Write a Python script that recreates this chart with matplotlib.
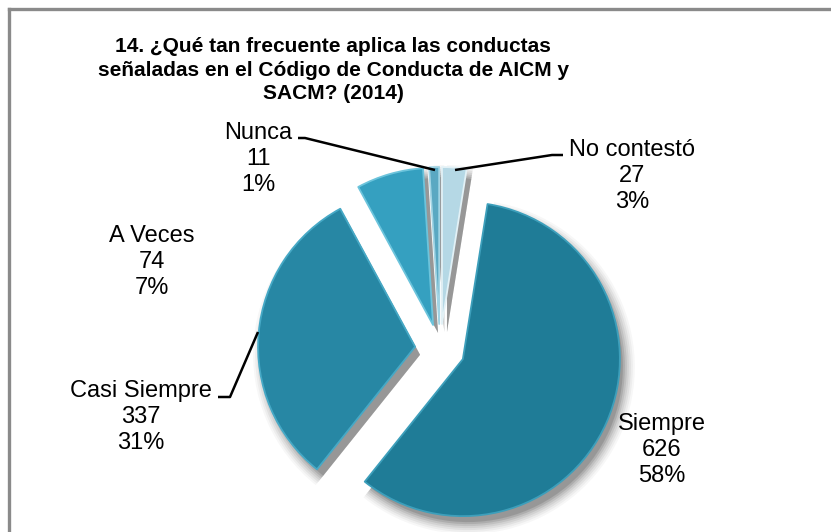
import matplotlib
matplotlib.use("Agg")
import matplotlib.pyplot as plt
from matplotlib.lines import Line2D
import numpy as np

plt.rcParams['font.family'] = ['Liberation Sans', 'DejaVu Sans']

# ---- data ----
categories = ["No contestó", "Siempre", "Casi Siempre", "A Veces", "Nunca"]
counts = [27, 626, 337, 74, 11]
percents = ["3%", "58%", "31%", "7%", "1%"]
title = "14. ¿Qué tan frecuente aplica las conductas\nseñaladas en el Código de Conducta de AICM y\nSACM? (2014)"

colors = ["#b5d8e5", "#1f7c97", "#2787a4", "#35a0c0", "#5aa8c2"]
edge_colors = ["#e2f1f6", "#3d9fbb", "#46a9c6", "#6cc4dc", "#a2d4e4"]

W, H = 831, 532
fig = plt.figure(figsize=(W / 100, H / 100), dpi=100)
ax = fig.add_axes([0, 0, 1, 1])

cx, cy = 440, H - 349
R = 157
expl = [25] * len(counts)

# soft shadow (offset down-right)
for dr, a in [(10, 0.03), (8, 0.04), (6, 0.05), (4, 0.06), (2, 0.08), (0, 0.10), (-2, 0.12)]:
    ax.pie(counts, startangle=90, counterclock=False, explode=expl,
           center=(cx + 5, cy - 8), radius=R + dr,
           colors=["#000000"] * len(counts),
           wedgeprops=dict(alpha=a, linewidth=0), frame=True)

wedges, _ = ax.pie(counts, startangle=90, counterclock=False, explode=expl,
                   center=(cx, cy), radius=R, colors=colors,
                   wedgeprops=dict(linewidth=0), frame=True)
for w, ec in zip(wedges, edge_colors):
    w.set_edgecolor(ec)
    w.set_linewidth(1.3)
    w.set_joinstyle("round")

ax.set_xlim(0, W)
ax.set_ylim(0, H)
ax.set_aspect('equal', adjustable='box')
ax.axis('off')

# labels: (x center, y of middle line) in image pixel coords
label_pos = {
    "No contestó": (632, 176),
    "Siempre": (662, 450),
    "Casi Siempre": (141, 417),
    "A Veces": (152, 262),
    "Nunca": (258, 159),
}
for cat, n, p in zip(categories, counts, percents):
    x, y = label_pos[cat]
    ax.text(x, H - y, f"{cat}\n{n}\n{p}", ha="center", va="center",
            fontsize=17, linespacing=1.26, color="black")

# leader lines
leaders = [
    [(298, 138), (305, 138), (435, 170)],
    [(563, 155), (552, 155), (455, 170)],
    [(218, 397), (230, 397), (258, 332)],
]
for pts in leaders:
    xs = [p[0] for p in pts]
    ys = [H - p[1] for p in pts]
    ax.plot(xs, ys, color="black", lw=1.8, solid_capstyle="butt")

ax.text(333, H - 70, title, ha="center", va="center", fontsize=15,
        fontweight="bold", linespacing=1.32)

# frame (top and left gray border)
fig.add_artist(Line2D([9 / W, 1], [1 - 9 / H, 1 - 9 / H], color="#8a8a8a", lw=2.4,
                      transform=fig.transFigure))
fig.add_artist(Line2D([9 / W, 9 / W], [0, 1 - 9 / H], color="#8a8a8a", lw=2.4,
                      transform=fig.transFigure))

fig.savefig("out.png", dpi=100)
